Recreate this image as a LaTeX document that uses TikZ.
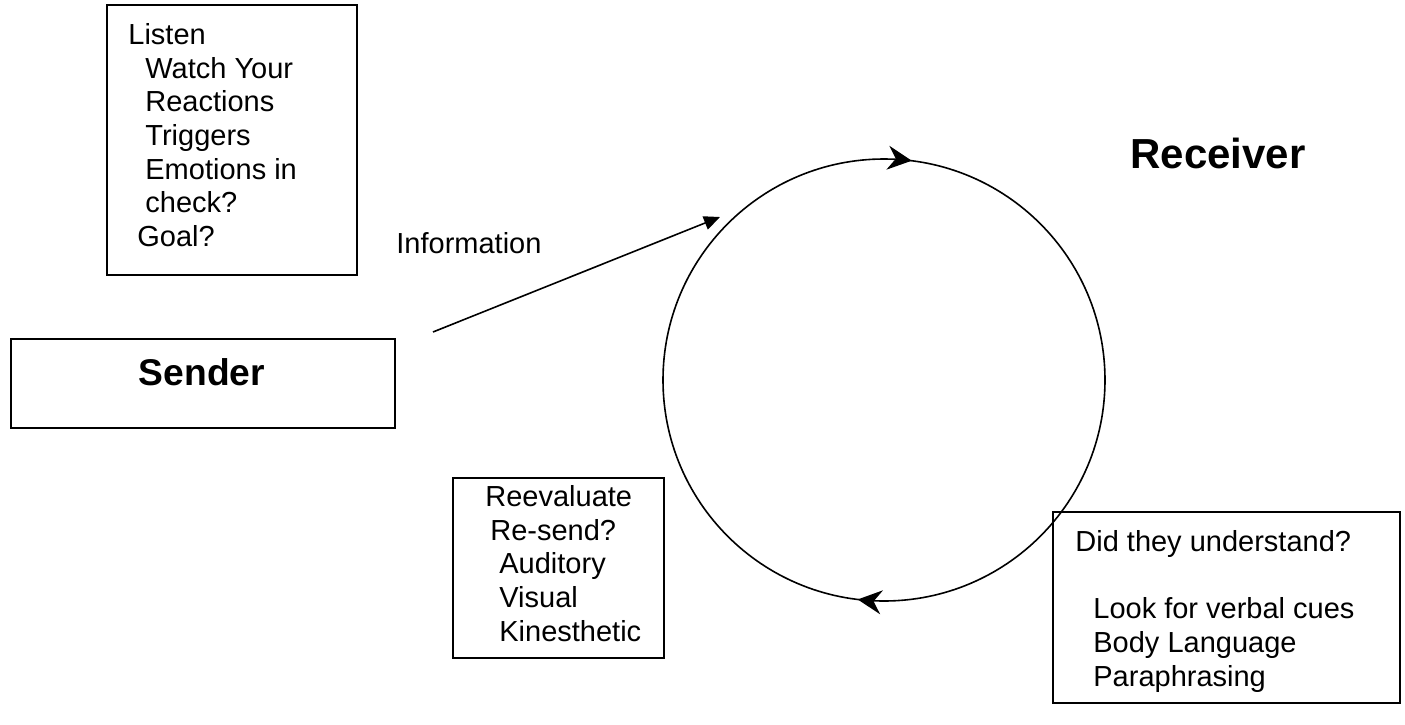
\documentclass[tikz,border=0pt]{standalone}
\usepackage{fontspec}
\setmainfont{Liberation Sans}
\usetikzlibrary{arrows.meta,decorations.markings}

\tikzset{
    box/.style={draw, line width=0.8pt, inner sep=0pt},
    txt/.style={font=\fontsize{14.5}{16.85}\selectfont, align=left, inner sep=0pt},
    head/.style={font=\fontsize{18.6}{21}\selectfont\bfseries, inner sep=0pt},
    loop arrows/.style={line width=0.8pt, postaction=decorate,
        decoration={markings,
            mark=at position 0.269 with {\arrow{Stealth[length=12pt,width=12pt,inset=4pt]}},
            mark=at position 0.770 with {\arrow{Stealth[length=12pt,width=12pt,inset=4pt]}}}}
}

\begin{document}
\begin{tikzpicture}[x=0.5pt, y=-0.5pt]
    \useasboundingbox (0,0) rectangle (1405,724);

    % boxes
    \node[box, minimum width=125pt, minimum height=135pt] at (232,140) (listen box) {};
    \node[box, minimum width=192pt, minimum height=44.5pt] at (203,383.5) (sender box) {};
    \node[box, minimum width=105.5pt, minimum height=90pt] at (558.5,568) (reeval box) {};
    \node[box, minimum width=173.5pt, minimum height=95.5pt] at (1226.5,607.5) (check box) {};

    % texts
    \node[txt, anchor=north west] at (128,23) (listen) {Listen\\
        \hspace*{8.5pt}Watch Your\\
        \hspace*{8.5pt}Reactions\\
        \hspace*{8.5pt}Triggers\\
        \hspace*{8.5pt}Emotions in\\
        \hspace*{8.5pt}check?\\
        \hspace*{4.5pt}Goal?};
    \node[head, anchor=base] at (202,385) (sender) {Sender};
    \node[txt, anchor=base west] at (396,253) (info) {Information};
    \node[head, anchor=base west, font=\fontsize{21}{24}\selectfont\bfseries]
        at (1130,168) (receiver) {Receiver};
    \node[txt, anchor=north west] at (485,485) (reeval) {Reevaluate\\
        \hspace*{2.5pt}Re-send?\\
        \hspace*{7pt}Auditory\\
        \hspace*{7pt}Visual\\
        \hspace*{7pt}Kinesthetic};
    \node[txt, anchor=north west] at (1075,530) (check) {Did they understand?\\[16.85pt]
        \hspace*{9pt}Look for verbal cues\\
        \hspace*{9pt}Body Language\\
        \hspace*{9pt}Paraphrasing};

    % loop
    \coordinate (centre) at (884,380);
    \draw[loop arrows] (centre) circle[radius=221];

    % information arrow
    \coordinate (info start) at (433,332);
    \coordinate (info end) at (720,217);
    \draw[-{Triangle[length=8pt,width=7pt]}, line width=0.8pt] (info start) -- (info end);

\end{tikzpicture}
\end{document}
